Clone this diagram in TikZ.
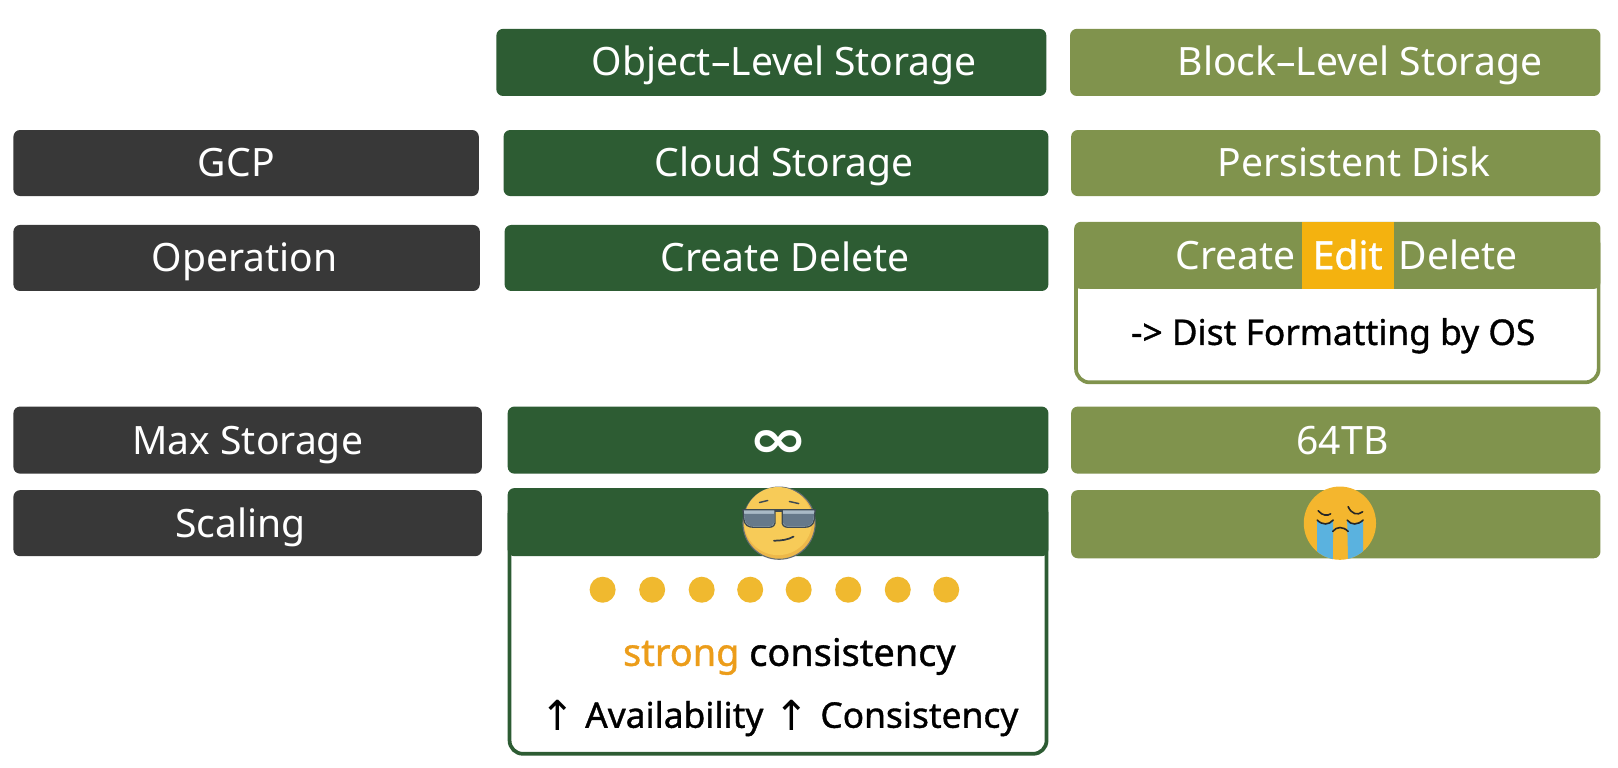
\documentclass[tikz,border=0pt]{standalone}
\usepackage{fontspec}
\usepackage{graphicx}
\setmainfont{Noto Sans}
\newfontfamily\symfont{DejaVu Sans}
\newfontfamily\medfont[FakeBold=1]{Noto Sans}
\definecolor{dk}{HTML}{383838}
\definecolor{gr}{HTML}{2D5C33}
\definecolor{ol}{HTML}{80934D}
\definecolor{am}{HTML}{F4B20F}
\definecolor{dotc}{HTML}{F0B92F}
\definecolor{org}{HTML}{EC9D1A}
\definecolor{emo}{HTML}{F7CB58}
\definecolor{emod}{HTML}{EDB84A}
\definecolor{cry}{HTML}{F4B62E}
\definecolor{tear}{HTML}{5AB2DF}
\definecolor{lens}{HTML}{66798A}
\definecolor{lensl}{HTML}{A9BAC6}
\definecolor{frm}{HTML}{3E4A52}
\newlength{\uu}\setlength{\uu}{0.77392pt}
\tikzset{
  bar/.style={inner sep=0pt,rounded corners=5pt,text=white,font=\fontsize{29.3}{32}\selectfont,text height=20pt,text depth=0pt},
  barlow/.style={bar,text height=22pt},
  panel/.style={inner sep=0pt,fill=white,line width=2.8pt,rounded corners=10pt},
  lbl/.style={inner sep=0pt,text=black,font=\medfont\fontsize{26.5}{30}\selectfont,text height=19pt,text depth=0pt},
  dotn/.style={circle,fill=dotc,inner sep=0pt,minimum size=19.5pt}
}
% style, name, x0,y0,x1,y1, colour, text centre x, text
\newcommand{\bxs}[9]{%
  \pgfmathsetmacro{\mx}{(#3+#5)/2}\pgfmathsetmacro{\my}{(#4+#6)/2}%
  \pgfmathsetmacro{\bw}{(#5-#3)*0.77392}\pgfmathsetmacro{\bh}{(#6-#4)*0.77392}%
  \pgfmathsetmacro{\tdx}{2*(#8-\mx)*0.77392}%
  \node[#1,fill=#7,minimum width=\bw pt,minimum height=\bh pt] (#2) at (\mx,\my) {\hspace*{\tdx pt}#9};}
\newcommand{\bx}{\bxs{bar}}
\newcommand{\bl}{\bxs{barlow}}
\newcommand{\pn}[6]{%
  \pgfmathsetmacro{\mx}{(#2+#4)/2}\pgfmathsetmacro{\my}{(#3+#5)/2}%
  \pgfmathsetmacro{\bw}{(#4-#2)*0.77392}\pgfmathsetmacro{\bh}{(#5-#3)*0.77392}%
  \node[panel,draw=#6,minimum width=\bw pt,minimum height=\bh pt] (#1) at (\mx,\my) {};}
\begin{document}
\begin{tikzpicture}[x=\uu,y=-\uu]
\useasboundingbox (0,0) rectangle (1568,743.3);
\fill[white] (0,0) rectangle (1568,743.3);
% header row
\bx{objh}{481}{28}{1014}{93}{gr}{760}{Object--Level Storage}
\bx{blkh}{1037}{28}{1551}{93}{ol}{1318}{Block--Level Storage}
% GCP
\bx{gcp}{13}{126}{464}{190}{dk}{229}{GCP}
\bx{cs}{488}{126}{1016}{190}{gr}{760}{Cloud Storage}
\bx{pd}{1038}{126}{1551}{190}{ol}{1312}{Persistent Disk}
% Operation
\bx{op}{13}{218}{465}{282}{dk}{237}{Operation}
\bx{opo}{489}{218}{1016}{282}{gr}{761}{Create Delete}
\pn{opbody}{1042.8}{225}{1549.2}{370.5}{ol}
\bx{opb}{1041}{215}{1551}{280}{ol}{1296}{}
\fill[am] (1262,215) rectangle (1351,280);
\node[bar,anchor=center] (cr) at (1197.5,248) {Create};
\node[bar,anchor=center] (ed) at (1306,248) {\medfont Edit};
\node[bar,anchor=center] (de) at (1413,248) {Delete};
\node[lbl] (fmt) at (1292,322) {-> Dist Formatting by OS};
% Max storage
\bl{ms}{13}{394}{467}{459}{dk}{240}{Max Storage}
\bx{inf}{492}{394}{1016}{459}{gr}{754}{\raisebox{-3pt}{\scalebox{1.35}[1]{\symfont\bfseries\fontsize{40}{40}\selectfont ∞}}}
\bl{tb}{1038}{394}{1551}{459}{ol}{1301}{64TB}
% Scaling
\bl{sc}{13}{475}{467}{539}{dk}{233}{Scaling}
\pn{scbody}{493.8}{485}{1014.2}{730.5}{gr}
\bx{sch}{492}{473}{1016}{539}{gr}{754}{}
\bx{sco}{1038}{475}{1551}{541}{ol}{1294}{}
% dots
\foreach \i/\xx in {1/584,2/632,3/680,4/727,5/774,6/822,7/870,8/917}
  \node[dotn] (d\i) at (\xx,571.5) {};
\node[lbl,font=\medfont\fontsize{28.4}{30}\selectfont] (sc1) at (765,633) {\textcolor{org}{strong} consistency};
\node[lbl,font=\symfont\fontsize{31}{32}\selectfont] (up1) at (541,696) {↑};
\node[lbl] (av) at (653.5,693) {Availability};
\node[lbl,font=\symfont\fontsize{31}{32}\selectfont] (up2) at (767,696) {↑};
\node[lbl] (co) at (891,693) {Consistency};
% cool emoji
\begin{scope}[shift={(755,507)},x=\uu,y=-\uu]
  \fill[emod,draw=frm!80,line width=.8pt] (0,0) ellipse (35 and 35);
  \fill[emo] (-1,-2) ellipse (33 and 33);
  \fill[lensl,draw=frm,line width=1pt,line join=round] (-35,-13) -- (-4,-13) -- (-4,0) .. controls (-5,4) and (-8,4) .. (-12,4) -- (-24,4) .. controls (-30,4) and (-33,2) .. (-34,-3) -- cycle;
  \fill[lensl,draw=frm,line width=1pt,line join=round] (35,-13) -- (3,-13) -- (3,0) .. controls (4,4) and (7,4) .. (11,4) -- (24,4) .. controls (30,4) and (33,2) .. (34,-3) -- cycle;
  \fill[lens] (-34,-9) -- (-5,-9) -- (-5,0) .. controls (-6,3) and (-8,3) .. (-12,3) -- (-24,3) .. controls (-30,3) and (-32,1) .. (-33,-3) -- cycle;
  \fill[lens] (34,-9) -- (4,-9) -- (4,0) .. controls (5,3) and (7,3) .. (11,3) -- (24,3) .. controls (30,3) and (32,1) .. (33,-3) -- cycle;
  \draw[frm,line width=2pt] (-4,-12) -- (3,-12);
  \draw[frm,line width=1.1pt,line cap=round] (-19,-20) -- (-11,-22);
  \draw[frm,line width=1.1pt,line cap=round] (10,-21) -- (19,-19);
  \draw[frm!80!black,line width=1.3pt,line cap=round] (-5,17) .. controls (2,17) and (9,16) .. (14,13);
\end{scope}
% crying emoji
\begin{scope}[shift={(1298.5,507)},x=\uu,y=-\uu]
  \fill[cry] (0,0) ellipse (35 and 35.5);
  \begin{scope}
    \clip (0,0) ellipse (35 and 35.5);
    \fill[tear] (-22,-3) .. controls (-17,2) and (-11,2) .. (-6.5,-3) -- (-7,40) -- (-22,40) -- cycle;
    \fill[tear] (22.5,-3) .. controls (17,2) and (11,2) .. (7,-3) -- (8,40) -- (22.5,40) -- cycle;
  \end{scope}
  \draw[black!85,line width=1.2pt,line cap=round] (-21,-12) .. controls (-17,-7) and (-12,-7) .. (-9,-9);
  \draw[black!85,line width=1.2pt,line cap=round] (-22,-3) .. controls (-17,2) and (-11,2) .. (-6.5,-3);
  \draw[black!85,line width=1.2pt,line cap=round] (8,-16) .. controls (11,-9) and (17,-7) .. (22,-11);
  \draw[black!85,line width=1.2pt,line cap=round] (7,-3) .. controls (11,2) and (17,2) .. (22.5,-3);
  \draw[black!85,line width=1.2pt,line cap=round] (-7,8) .. controls (-3,3) and (3,3) .. (8,8);
\end{scope}
\end{tikzpicture}
\end{document}
